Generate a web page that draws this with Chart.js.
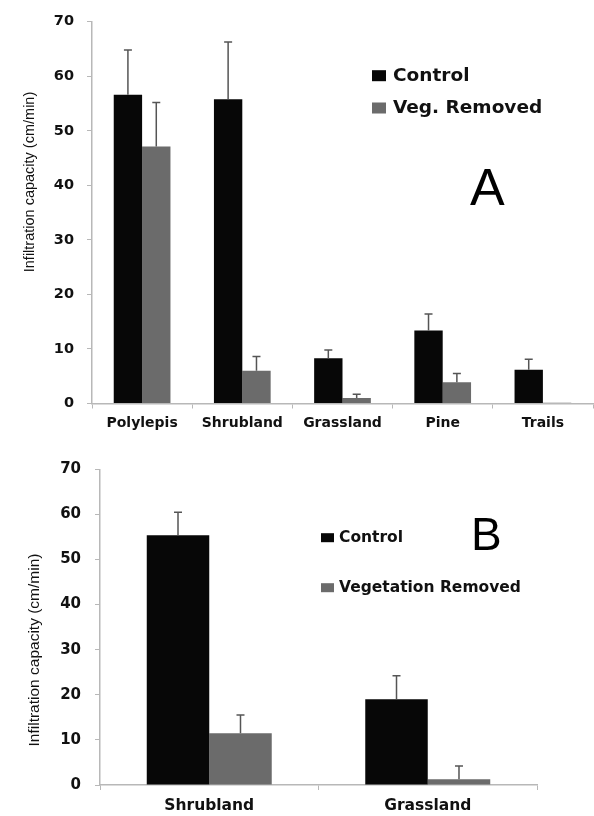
<!DOCTYPE html>
<html>
<head>
<meta charset="utf-8">
<script src="https://cdn.jsdelivr.net/npm/chart.js@4/dist/chart.umd.min.js"></script>
<style>
  body { margin: 0; background: #fff; }
  #wrap { position: relative; width: 594px; height: 816px; }
  canvas { position: absolute; left: 0; }
  #a { top: 0; }
  #b { top: 440px; }
</style>
</head>
<body>
<div id="wrap">
  <canvas id="a" width="594" height="440"></canvas>
  <canvas id="b" width="594" height="376"></canvas>
</div>
<script>
// panel A
const catsA = ['Polylepis', 'Shrubland', 'Grassland', 'Pine', 'Trails'];
const controlA = [56.6, 55.8, 8.3, 13.4, 6.2];
const controlErrA = [8.2, 10.5, 1.5, 3.0, 1.9];
const removedA = [47.1, 6.0, 1.0, 3.9, 0.15];
const removedErrA = [8.1, 2.6, 0.7, 1.6, 0];

// panel B
const catsB = ['Shrubland', 'Grassland'];
const controlB = [55.4, 19.0];
const controlErrB = [5.1, 5.2];
const removedB = [11.5, 1.3];
const removedErrB = [4.0, 2.9];

const yMin = 0, yMax = 70, yStep = 10;
const yTitle = 'Infiltration capacity (cm/min)';

// one-sided error bars, drawn from bar top upwards
const errorBars = {
    id: 'errorBars',
    afterDatasetsDraw(chart) {
        const ctx = chart.ctx;
        const y = chart.scales.y;
        ctx.save();
        ctx.strokeStyle = '#555';
        ctx.lineWidth = 1.5;
        chart.data.datasets.forEach((ds, i) => {
            const meta = chart.getDatasetMeta(i);
            meta.data.forEach((bar, j) => {
                const e = ds.err[j];
                if (!e) return;
                const top = y.getPixelForValue(ds.data[j] + e);
                ctx.beginPath();
                ctx.moveTo(bar.x, bar.y);
                ctx.lineTo(bar.x, top);
                ctx.moveTo(bar.x - 4, top);
                ctx.lineTo(bar.x + 4, top);
                ctx.stroke();
            });
        });
        ctx.restore();
    }
};

// legend, panel letter and axis title
const deco = {
    id: 'deco',
    afterDraw(chart, args, o) {
        const ctx = chart.ctx;
        ctx.save();
        ctx.textBaseline = 'middle';
        ctx.textAlign = 'left';
        ctx.font = 'bold ' + o.legendSize + 'px "DejaVu Sans"';
        chart.data.datasets.forEach((ds, i) => {
            const ly = o.legendY[i];
            ctx.fillStyle = ds.backgroundColor;
            ctx.fillRect(o.legendX, ly - o.boxH / 2, o.boxW, o.boxH);
            ctx.fillStyle = '#111';
            ctx.fillText(ds.label, o.textX, ly);
        });

        ctx.font = o.letterSize + 'px "Liberation Sans"';
        ctx.textBaseline = 'alphabetic';
        ctx.fillStyle = '#000';
        ctx.fillText(o.letter, o.letterX, o.letterY);

        ctx.translate(o.titleX, o.titleY);
        ctx.rotate(-Math.PI / 2);
        ctx.textAlign = 'center';
        ctx.textBaseline = 'middle';
        ctx.font = o.titleSize + 'px "Liberation Sans"';
        ctx.fillStyle = '#111';
        ctx.fillText(yTitle, 0, 0);
        ctx.restore();
    }
};

function makeChart(id, cats, ctl, ctlErr, rem, remErr, cfg) {
    const ctx = document.getElementById(id).getContext('2d');
    const h = ctx.canvas.height;
    return new Chart(ctx, {
        type: 'bar',
        data: {
            labels: cats,
            datasets: [{
                label: 'Control',
                data: ctl,
                err: ctlErr,
                backgroundColor: '#070707',
                categoryPercentage: cfg.catPct,
                barPercentage: 1
            }, {
                label: cfg.remLabel,
                data: rem,
                err: remErr,
                backgroundColor: '#6b6b6b',
                categoryPercentage: cfg.catPct,
                barPercentage: 1
            }]
        },
        options: {
            responsive: false,
            animation: false,
            layout: {
                padding: { left: 0, right: cfg.padRight, top: cfg.top, bottom: 0 }
            },
            scales: {
                x: {
                    afterFit: (s) => { s.height = h - cfg.bottom; },
                    grid: {
                        drawOnChartArea: false,
                        drawTicks: true,
                        tickLength: 5,
                        color: '#b8b8b8'
                    },
                    border: { color: '#b8b8b8', width: 1.5 },
                    ticks: {
                        color: '#111',
                        padding: cfg.xPad,
                        font: { family: 'DejaVu Sans', weight: 'bold', size: cfg.xSize }
                    }
                },
                y: {
                    min: yMin,
                    max: yMax,
                    afterFit: (s) => { s.width = cfg.left; },
                    grid: {
                        drawOnChartArea: false,
                        drawTicks: true,
                        tickLength: 5,
                        color: '#b8b8b8'
                    },
                    border: { color: '#b8b8b8', width: 1.5 },
                    ticks: {
                        stepSize: yStep,
                        color: '#111',
                        padding: cfg.yPad,
                        font: { family: 'DejaVu Sans', weight: 'bold', size: cfg.ySize }
                    }
                }
            },
            plugins: {
                legend: { display: false },
                tooltip: { enabled: false },
                deco: cfg.deco
            }
        },
        plugins: [errorBars, deco]
    });
}

makeChart('a', catsA, controlA, controlErrA, removedA, removedErrA, {
    remLabel: 'Veg. Removed',
    catPct: 0.566,
    left: 92, padRight: 1, top: 15, bottom: 403.5,
    xPad: 6, xSize: 14, yPad: 13, ySize: 14.5,
    deco: {
        legendX: 372, textX: 393, legendY: [75.7, 108], boxW: 14, boxH: 11, legendSize: 18.5,
        letter: 'A', letterX: 470, letterY: 205, letterSize: 52,
        titleX: 30, titleY: 182, titleSize: 14.5
    }
});

makeChart('b', catsB, controlB, controlErrB, removedB, removedErrB, {
    remLabel: 'Vegetation Removed',
    catPct: 0.572,
    left: 100, padRight: 57, top: 29.3, bottom: 345,
    xPad: 7, xSize: 15.5, yPad: 14, ySize: 15,
    deco: {
        legendX: 321, textX: 339, legendY: [97.7, 147.7], boxW: 13, boxH: 9, legendSize: 15.5,
        letter: 'B', letterX: 471, letterY: 110, letterSize: 46,
        titleX: 35, titleY: 210, titleSize: 15.5
    }
});
</script>
</body>
</html>
